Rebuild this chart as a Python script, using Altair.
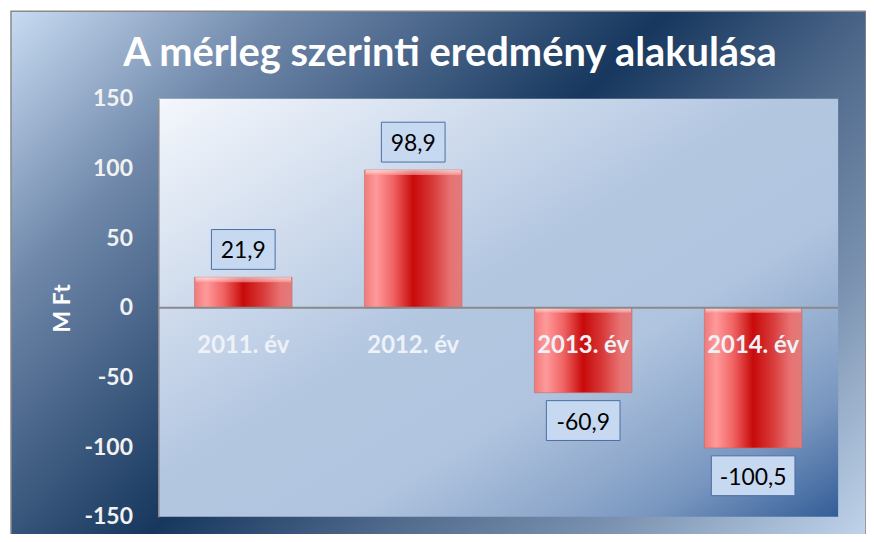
import altair as alt
import pandas as pd

# ---- data ----
title_text = "A mérleg szerinti eredmény alakulása"
axis_title = "M Ft"
categories = ["2011. év", "2012. év", "2013. év", "2014. év"]
values = [21.9, 98.9, -60.9, -100.5]
value_labels = ["21,9", "98,9", "-60,9", "-100,5"]
y_ticks = [-150, -100, -50, 0, 50, 100, 150]

df = pd.DataFrame({"cat": categories, "value": values, "label": value_labels})
df["zero"] = 0
df["top"] = df["value"].clip(lower=0)

W, H = 683, 420
FONT = "Lato"

y_scale = alt.Scale(domain=[-150, 150], nice=False, zero=False)
y_axis = alt.Axis(
    values=y_ticks, title=axis_title, grid=False, ticks=False, tickSize=0,
    labelPadding=26, labelFont=FONT, labelFontWeight="bold", labelFontSize=23,
    labelColor="#f2f2f2", labelExpr="'' + datum.value",
    domain=True, domainColor="#8a8a8a", domainWidth=1.5,
    titleFont=FONT, titleFontWeight="bold", titleFontSize=23, titleColor="#ffffff",
    titleAngle=270, titleX=-96, titleY=H / 2, titleAlign="center", titleBaseline="middle",
    zindex=1,
)
x_enc = alt.X("cat:N", sort=categories, axis=None,
              scale=alt.Scale(paddingInner=0.426, paddingOuter=0.213))


def Y(field):
    return alt.Y(field, type="quantitative", scale=y_scale, axis=y_axis)


one = pd.DataFrame({"k": [0]})

outer_grad = alt.LinearGradient(
    gradient="linear", x1=0, y1=0, x2=1.172, y2=0.721,
    stops=[
        alt.GradientStop(color="#c8dbf2", offset=0),
        alt.GradientStop(color="#6f88aa", offset=0.2),
        alt.GradientStop(color="#17375e", offset=0.475),
        alt.GradientStop(color="#526c8e", offset=0.65),
        alt.GradientStop(color="#7a92b0", offset=0.8),
        alt.GradientStop(color="#c2d5ec", offset=1),
    ],
)
plot_grad = alt.LinearGradient(
    gradient="linear", x1=0, y1=0, x2=1, y2=1,
    stops=[
        alt.GradientStop(color="#f4f7fc", offset=0),
        alt.GradientStop(color="#b4c7e1", offset=0.45),
        alt.GradientStop(color="#b0c4df", offset=0.64),
        alt.GradientStop(color="#8fa9cc", offset=0.78),
        alt.GradientStop(color="#7896bf", offset=0.86),
        alt.GradientStop(color="#345e98", offset=1),
    ],
)
bar_grad = alt.LinearGradient(
    gradient="linear", x1=0, y1=0, x2=1, y2=0,
    stops=[
        alt.GradientStop(color="#f07a7a", offset=0),
        alt.GradientStop(color="#ff9a9a", offset=0.12),
        alt.GradientStop(color="#f06262", offset=0.3),
        alt.GradientStop(color="#c80a0a", offset=0.5),
        alt.GradientStop(color="#d83a3a", offset=0.7),
        alt.GradientStop(color="#e87272", offset=0.88),
        alt.GradientStop(color="#e07c7c", offset=1),
    ],
)
bevel_grad = alt.LinearGradient(
    gradient="linear", x1=0, y1=0, x2=0, y2=1,
    stops=[
        alt.GradientStop(color="#ffffff", offset=0),
        alt.GradientStop(color="#ffd6d6", offset=0.5),
        alt.GradientStop(color="#ff9a9a", offset=1),
    ],
)

outer_bg = alt.Chart(one).mark_rect(
    fill=outer_grad, stroke="#8a8a8a", strokeWidth=1.5
).encode(x=alt.value(-148), x2=alt.value(711), y=alt.value(-88), y2=alt.value(446))

plot_bg = alt.Chart(one).mark_rect(fill=plot_grad).encode(
    x=alt.value(0), x2=alt.value(W), y=alt.value(0), y2=alt.value(H)
)

bars = alt.Chart(df).mark_bar(fill=bar_grad, stroke="#c86a6a", strokeWidth=0.6).encode(
    x=x_enc, y=Y("value"), y2=alt.Y2("zero")
)

bevel = alt.Chart(df).mark_tick(
    orient="horizontal", thickness=5, size=96, yOffset=2.5, fill=bevel_grad, opacity=0.6
).encode(x=x_enc, y=Y("top"))

zero_rule = alt.Chart(one.assign(zero=0)).mark_rule(color="#8a8a8a", strokeWidth=2).encode(
    y=Y("zero"), x=alt.value(0), x2=alt.value(W)
)

cat_labels = alt.Chart(df).mark_text(
    dy=45, baseline="alphabetic", align="center", font=FONT, fontWeight="bold",
    fontSize=24, color="#eef2f8"
).encode(x=x_enc, y=Y("zero"), text="cat:N")

base_lab = alt.Chart(df).transform_calculate(bw="length(datum.label) * 10 + 24")

box_pos = base_lab.transform_filter("datum.value >= 0").mark_tick(
    orient="horizontal", thickness=40, yOffset=-28, fill="#c6d9f1",
    stroke="#4a6fa5", strokeWidth=1, opacity=1
).encode(x=x_enc, y=Y("value"), size=alt.Size("bw:Q", scale=None, legend=None))

box_neg = base_lab.transform_filter("datum.value < 0").mark_tick(
    orient="horizontal", thickness=40, yOffset=28, fill="#c6d9f1",
    stroke="#4a6fa5", strokeWidth=1, opacity=1
).encode(x=x_enc, y=Y("value"), size=alt.Size("bw:Q", scale=None, legend=None))

txt_pos = alt.Chart(df).transform_filter("datum.value >= 0").mark_text(
    dy=-19, baseline="alphabetic", align="center", font=FONT, fontSize=23, color="#000000"
).encode(x=x_enc, y=Y("value"), text="label:N")

txt_neg = alt.Chart(df).transform_filter("datum.value < 0").mark_text(
    dy=37, baseline="alphabetic", align="center", font=FONT, fontSize=23, color="#000000"
).encode(x=x_enc, y=Y("value"), text="label:N")

title = alt.Chart(pd.DataFrame({"t": [title_text]})).mark_text(
    align="center", baseline="alphabetic", font=FONT, fontWeight="bold",
    fontSize=40, color="#ffffff"
).encode(x=alt.value(293), y=alt.value(-33), text="t:N")

chart = alt.layer(
    outer_bg, plot_bg, bars, bevel, zero_rule, cat_labels,
    box_pos, box_neg, txt_pos, txt_neg, title
).properties(
    width=W, height=H,
    padding={"left": 151, "top": 90, "right": 28, "bottom": 16},
    autosize=alt.AutoSizeParams(type="none"),
    background="#ffffff",
).configure_view(stroke=None)

chart.save("out.html", embed_options={"renderer": "svg", "actions": False})
